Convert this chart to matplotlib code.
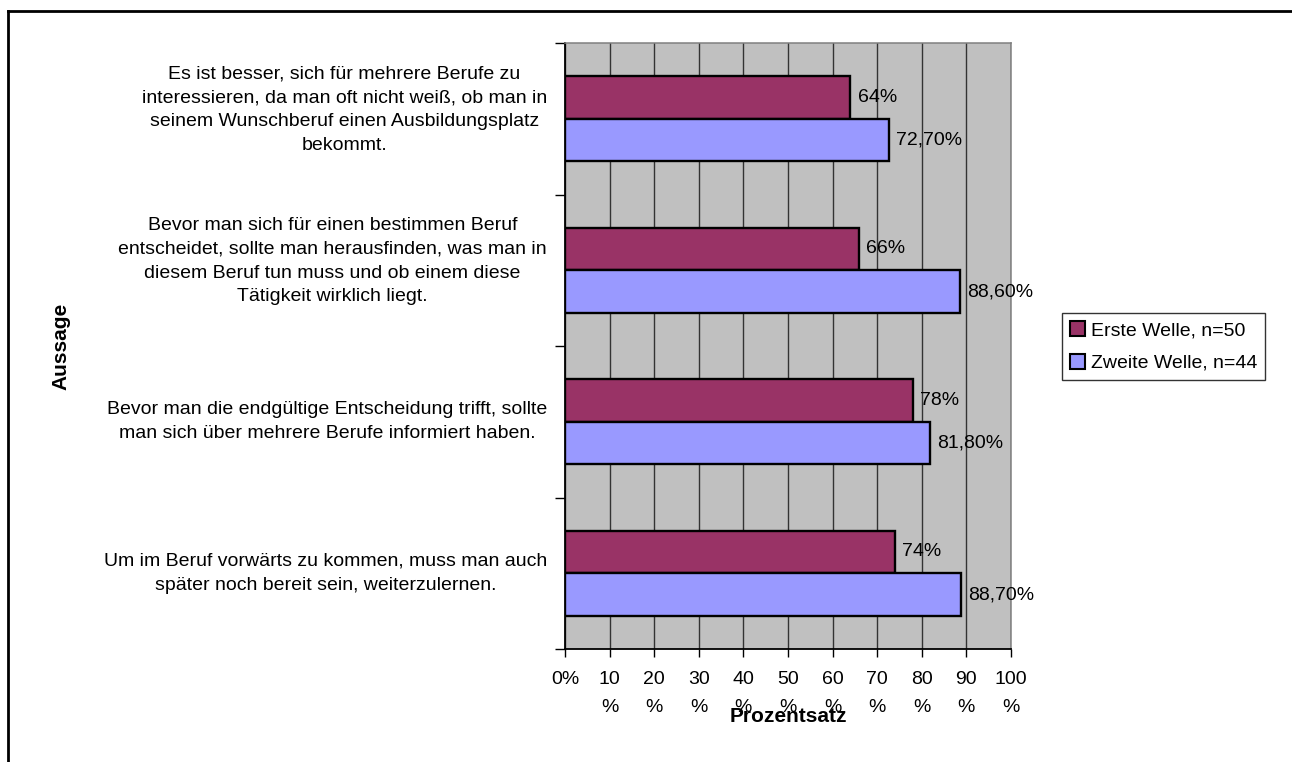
import matplotlib.pyplot as plt
from matplotlib.lines import Line2D
from matplotlib.patches import Patch
from matplotlib.transforms import blended_transform_factory, offset_copy
import numpy as np

plt.rcParams['font.family'] = ['Liberation Sans', 'DejaVu Sans']
plt.rcParams['font.size'] = 14

aussagen = [
    'Es ist besser, sich für mehrere Berufe zu\ninteressieren, da man oft nicht weiß, ob man in\nseinem Wunschberuf einen Ausbildungsplatz\nbekommt.',
    'Bevor man sich für einen bestimmen Beruf\nentscheidet, sollte man herausfinden, was man in\ndiesem Beruf tun muss und ob einem diese\nTätigkeit wirklich liegt.',
    'Bevor man die endgültige Entscheidung trifft, sollte\nman sich über mehrere Berufe informiert haben.',
    'Um im Beruf vorwärts zu kommen, muss man auch\nspäter noch bereit sein, weiterzulernen.',
]
erste_welle = [64, 66, 78, 74]
zweite_welle = [72.7, 88.6, 81.8, 88.7]
serien = ['Erste Welle, n=50', 'Zweite Welle, n=44']
x_ticks = [0, 10, 20, 30, 40, 50, 60, 70, 80, 90, 100]
x_labels = ['0%'] + ['%d\n%%' % t for t in x_ticks[1:]]

col1 = '#993366'
col2 = '#9999ff'

def fmt(v):
    if v == int(v):
        return '%d%%' % v
    return ('%.2f%%' % v).replace('.', ',')

W, H = 1292, 762
fig = plt.figure(figsize=(W / 100, H / 100), dpi=100)
ax = fig.add_axes([565 / W, 1 - 649 / H, 446 / W, 606 / H])
ax.set_facecolor('#c0c0c0')

centers = np.arange(len(aussagen)) + 0.5
h = 0.282
ax.barh(centers - h / 2, erste_welle, height=h, color=col1, edgecolor='black', linewidth=1.7, zorder=3)
ax.barh(centers + h / 2, zweite_welle, height=h, color=col2, edgecolor='black', linewidth=1.7, zorder=3)

for c, v in zip(centers, erste_welle):
    ax.text(v + 1.6, c - h / 2, fmt(v), va='center', ha='left', zorder=4)
for c, v in zip(centers, zweite_welle):
    ax.text(v + 1.6, c + h / 2, fmt(v), va='center', ha='left', zorder=4)

ax.set_xlim(0, 100)
ax.set_ylim(len(aussagen), 0)
ax.set_xticks(x_ticks)
ax.set_xticklabels(x_labels, linespacing=1.8)
ax.xaxis.grid(True, color='#333333', linewidth=1, zorder=1)
ax.set_axisbelow(True)

# tick marks on the category boundaries
ax.set_yticks(np.arange(len(aussagen) + 1))
ax.set_yticklabels([])
ax.tick_params(axis='y', which='major', length=7, width=1, direction='out')
ax.tick_params(axis='x', length=6, width=1, direction='out', pad=10)

# category texts, long ones sit a little higher
trans = offset_copy(blended_transform_factory(ax.transAxes, ax.transData), fig=fig, x=-18, y=0, units='dots')
for c, txt in zip(centers, aussagen):
    lines = txt.count('\n') + 1
    shift = 0.06 if lines > 2 else 0
    ax.text(0, c - shift, txt, transform=trans, ha='right', va='center',
            multialignment='center', linespacing=1.53)

for s in ['top', 'right']:
    ax.spines[s].set_color('#808080')
    ax.spines[s].set_linewidth(1.1)
for s in ['left', 'bottom']:
    ax.spines[s].set_color('black')
    ax.spines[s].set_linewidth(1.3)

fig.text(788 / W, 1 - 716 / H, 'Prozentsatz', fontsize=15, fontweight='bold', ha='center', va='center')
fig.text(61 / W, 1 - 346 / H, 'Aussage', fontsize=15, rotation=90, fontweight='bold', ha='center', va='center')

handles = [Patch(facecolor=col1, edgecolor='black', linewidth=1.5),
           Patch(facecolor=col2, edgecolor='black', linewidth=1.5)]
leg = fig.legend(handles, serien, loc='center left', bbox_to_anchor=(1062 / W, 1 - 346.5 / H),
                 frameon=True, fancybox=False, edgecolor='black', handlelength=0.8, handleheight=0.8,
                 handletextpad=0.3, borderpad=0.4, labelspacing=0.75, borderaxespad=0)
leg.get_frame().set_linewidth(1)

# outer frame, running off the right and bottom edge
fig.add_artist(Line2D([8 / W, 1], [1 - 11 / H, 1 - 11 / H], color='black', linewidth=2))
fig.add_artist(Line2D([8 / W, 8 / W], [0, 1 - 11 / H], color='black', linewidth=2))

fig.savefig('out.png', dpi=100)
